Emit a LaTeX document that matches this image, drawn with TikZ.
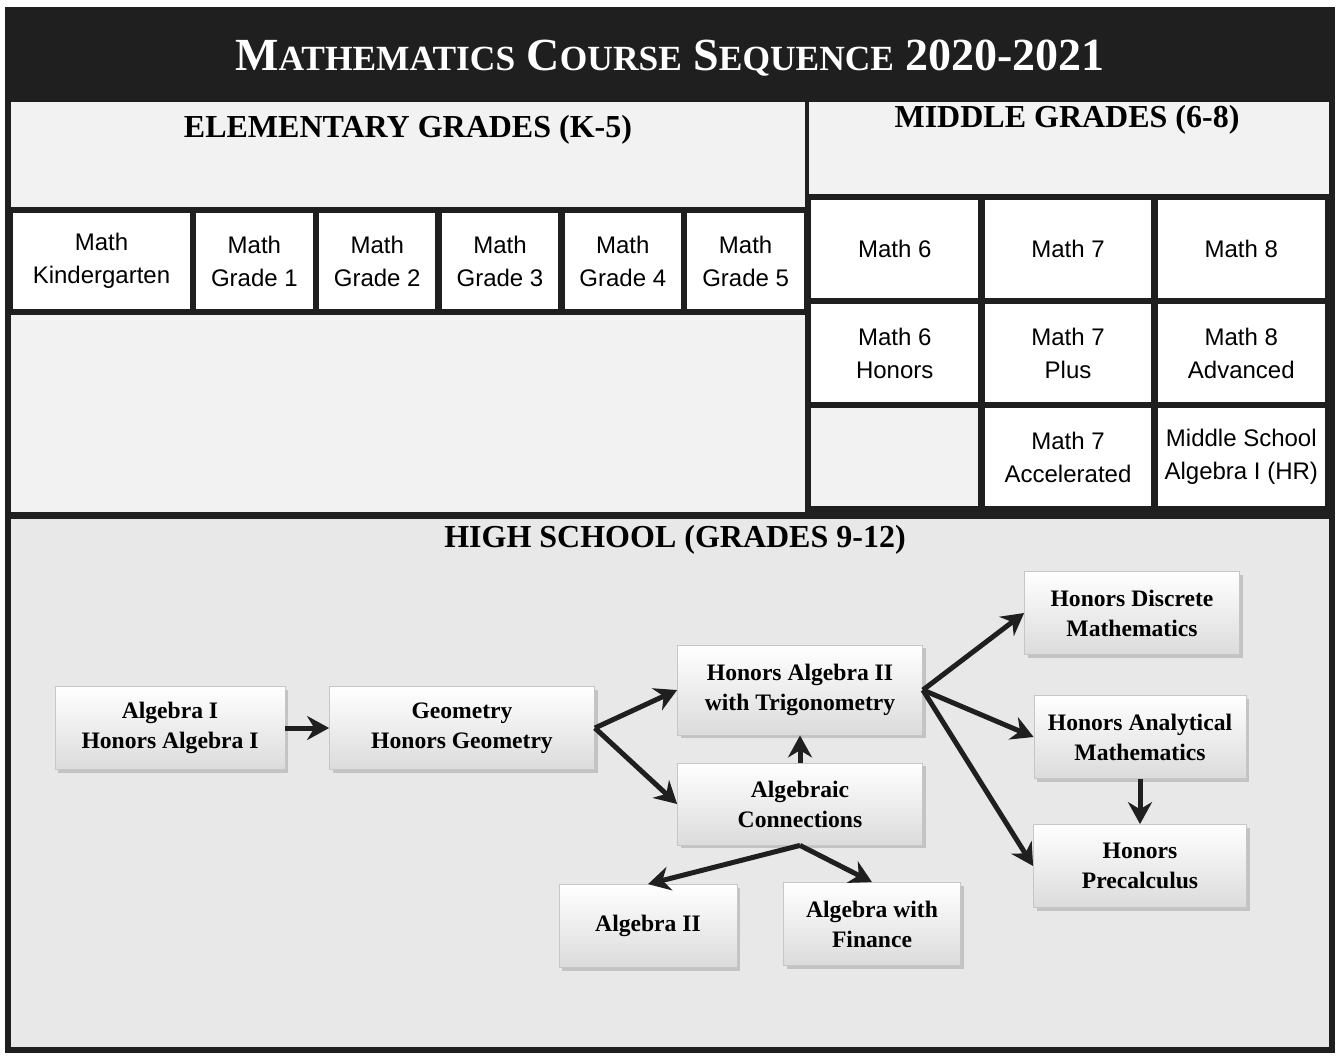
\documentclass[tikz,border=0pt]{standalone}
\usepackage{fontspec}
\setmainfont{Liberation Serif}
\setsansfont{Liberation Sans}
\usetikzlibrary{arrows.meta,positioning,shadows}
\definecolor{scanblack}{rgb}{0.12,0.12,0.12}
\definecolor{headgray}{rgb}{0.95,0.95,0.95}
\definecolor{hsgray}{rgb}{0.91,0.91,0.91}
\definecolor{boxshade}{rgb}{0.86,0.86,0.86}
\newcommand{\pequenas}[1]{{\fontsize{17.7}{20}\selectfont #1}}
\tikzset{
  cell/.style={
    draw=scanblack,
    line width=3.2pt,
    fill=white,
    align=center,
    minimum height=51pt,
    inner sep=2pt,
    outer sep=0pt,
    font=\sffamily\fontsize{12}{16.5}\selectfont
  },
  midcell/.style={
    cell,
    minimum width=86.7pt,
    minimum height=52pt
  },
  heading/.style={
    font=\bfseries\fontsize{16}{19}\selectfont,
    inner sep=0pt
  },
  course/.style={
    draw=gray!45,
    top color=white,
    bottom color=boxshade,
    drop shadow={shadow xshift=1.6pt,shadow yshift=-1.6pt,fill=gray!75},
    align=center,
    minimum height=41.5pt,
    inner sep=3pt,
    font=\bfseries\fontsize{11.8}{15}\selectfont
  },
  arrow/.style={
    -{Stealth[length=11pt,width=12pt]},
    line width=2.5pt,
    scanblack
  }
}

\begin{document}
\begin{tikzpicture}[x=0.5pt,y=-0.5pt]
\useasboundingbox (0,0) rectangle (1338,1055);
% fondos
\fill[headgray] (8,102) rectangle (1332,515);
\fill[hsgray] (8,515) rectangle (1332,1050);
\fill[scanblack] (8,10) rectangle (1332,102);
\node[text=white,font=\bfseries\fontsize{23}{28}\selectfont] (titulo) at (670,58)
  {M\pequenas{ATHEMATICS} C\pequenas{OURSE} S\pequenas{EQUENCE} 2020-2021};

% primaria
\node[heading] (elem) at (408,130) {ELEMENTARY GRADES (K-5)};
\node[cell,minimum width=91.5pt] (k) at (101.5,261) {Math\\Kindergarten};
\foreach \g in {1,...,5}
  \node[cell,minimum width=61.4pt] (g\g) at ({193+122.8*(\g-0.5)},261) {Math\\Grade \g};

% secundaria
\node[heading] (middle) at (1067,120) {MIDDLE GRADES (6-8)};
\node[midcell] (m6) at (894.7,249) {Math 6};
\node[midcell] (m7) at (1068,249) {Math 7};
\node[midcell] (m8) at (1241.3,249) {Math 8};
\node[midcell] (m6h) at (894.7,353) {Math 6\\Honors};
\node[midcell] (m7p) at (1068,353) {Math 7\\Plus};
\node[midcell] (m8a) at (1241.3,353) {Math 8\\Advanced};
\node[midcell,fill=headgray] (vacio) at (894.7,457) {};
\node[midcell] (m7a) at (1068,457) {Math 7\\Accelerated};
\node[midcell] (msa) at (1241.3,457) {Middle School\\Algebra I (HR)};

\draw[scanblack,line width=2.2pt] (807,102) -- (807,515);
\draw[scanblack,line width=3.5pt] (8,515) -- (1332,515);
\draw[scanblack,line width=3pt] (8,10) rectangle (1332,1050);

% bachillerato
\node[heading] (high) at (675,540) {HIGH SCHOOL (GRADES 9-12)};
\node[course,minimum width=115pt] (alg1) at (170,728) {Algebra I\\Honors Algebra I};
\node[course,minimum width=132.5pt] (geo) at (462,728) {Geometry\\Honors Geometry};
\node[course,minimum width=122.5pt,minimum height=45pt] (ha2t) at (800,690) {Honors Algebra II\\with Trigonometry};
\node[course,minimum width=122.5pt,minimum height=41pt] (ac) at (800,804) {Algebraic\\Connections};
\node[course,minimum width=89pt] (alg2) at (648,926) {Algebra II};
\node[course,minimum width=88.5pt] (fin) at (872,924) {Algebra with\\Finance};
\node[course,minimum width=107.5pt] (disc) at (1132,613) {Honors Discrete\\Mathematics};
\node[course,minimum width=106pt] (anal) at (1140,737) {Honors Analytical\\Mathematics};
\node[course,minimum width=106.5pt] (prec) at (1140,866) {Honors\\Precalculus};

\draw[arrow] (alg1) -- (geo);
\draw[arrow] (geo.east) -- (ha2t.west);
\draw[arrow] (geo.east) -- (ac.west);
\draw[arrow] (ac) -- (ha2t);
\draw[arrow] (ac.south) -- (alg2.north);
\draw[arrow] (ac.south) -- (fin.north);
\draw[arrow] (ha2t.east) -- (disc.west);
\draw[arrow] (ha2t.east) -- (anal.west);
\draw[arrow] (ha2t.east) -- (prec.west);
\draw[arrow] (anal) -- (prec);
\end{tikzpicture}
\end{document}
